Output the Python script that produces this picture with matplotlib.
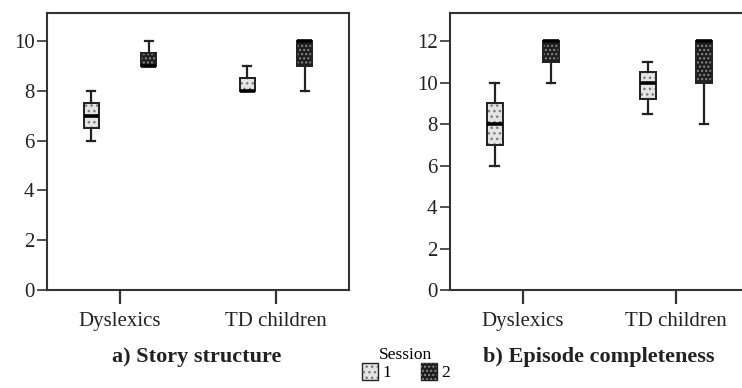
import matplotlib
matplotlib.use("Agg")
import matplotlib.pyplot as plt
from matplotlib.patches import Patch, PathPatch

plt.rcParams['font.family'] = ['Liberation Serif', 'DejaVu Serif']

groups = ["Dyslexics", "TD children"]
# five-number summaries per group: [low whisker, q1, median, q3, high whisker]
story_s1 = [[6, 6.5, 7, 7.5, 8], [8, 8, 8, 8.5, 9]]
story_s2 = [[9, 9, 9, 9.5, 10], [8, 9, 10, 10, 10]]
episode_s1 = [[6, 7, 8, 9, 10], [8.5, 9.2, 10, 10.5, 11]]
episode_s2 = [[10, 11, 12, 12, 12], [8, 10, 12, 12, 12]]

s1_face, s1_hatch, s1_hc = "#e4e4e4", "...", "#7a7a7a"
s2_face, s2_hatch, s2_hc = "#1e1e1e", "....", "#8a8a8a"
dark = "#222222"


def stats(rows):
    out = []
    for lo, q1, med, q3, hi in rows:
        out.append(dict(whislo=lo, q1=q1, med=med, q3=q3, whishi=hi, fliers=[]))
    return out


def draw_panel(ax, s1, s2, width):
    for rows, off, face, hatch, hc in [(s1, -0.185, s1_face, s1_hatch, s1_hc),
                                       (s2, 0.185, s2_face, s2_hatch, s2_hc)]:
        pos = [i + 1 + off for i in range(len(groups))]
        res = ax.bxp(stats(rows), positions=pos, widths=width, patch_artist=True,
                     showfliers=False, capwidths=0.055,
                     boxprops=dict(facecolor=face, edgecolor=dark, linewidth=1.3),
                     whiskerprops=dict(color=dark, linewidth=1.6),
                     capprops=dict(color=dark, linewidth=1.6),
                     medianprops=dict(color="black", linewidth=2.6))
        for box in res['boxes']:
            ax.add_patch(PathPatch(box.get_path(), facecolor="none", edgecolor=hc,
                                   hatch=hatch, linewidth=0, zorder=box.get_zorder() + 0.1))
            ax.add_patch(PathPatch(box.get_path(), facecolor="none", edgecolor=dark,
                                   linewidth=1.3, zorder=box.get_zorder() + 0.2))
        for med in res['medians']:
            med.set_zorder(5)
    ax.set_xticks([1, 2])
    ax.set_xticklabels(groups)
    for sp in ax.spines.values():
        sp.set_linewidth(1.5)
        sp.set_color("#333333")
    ax.tick_params(axis='x', length=10, width=1.6, pad=6, labelsize=15, color="#333333",
                   labelcolor="#222222")
    ax.tick_params(axis='y', length=7, width=1.2, pad=2, labelsize=15, color="#333333",
                   labelcolor="#222222")


fig = plt.figure(figsize=(7.42, 3.88), dpi=100)
ax1 = fig.add_axes([47 / 742, 98 / 388, 302 / 742, 277 / 388])
ax2 = fig.add_axes([450 / 742, 98 / 388, 306 / 742, 277 / 388])

draw_panel(ax1, story_s1, story_s2, 0.095)
ax1.set_xlim(0.532, 2.468)
ax1.set_ylim(0, 11.12)
ax1.set_yticks([0, 2, 4, 6, 8, 10])

draw_panel(ax2, episode_s1, episode_s2, 0.105)
ax2.set_xlim(0.523, 2.523)
ax2.set_ylim(0, 13.35)
ax2.set_yticks([0, 2, 4, 6, 8, 10, 12])

fig.text(197 / 742, 1 - 357 / 388, "a) Story structure", ha="center", va="center",
         fontsize=16, fontweight="bold", color="#222222")
fig.text(599 / 742, 1 - 357 / 388, "b) Episode completeness", ha="center", va="center",
         fontsize=16, fontweight="bold", color="#222222")

handles = [(Patch(facecolor=s1_face, edgecolor=dark, linewidth=1),
            Patch(facecolor="none", edgecolor=s1_hc, hatch=s1_hatch, linewidth=0)),
           (Patch(facecolor=s2_face, edgecolor=dark, linewidth=1),
            Patch(facecolor="none", edgecolor=s2_hc, hatch=s2_hatch, linewidth=0))]
leg = fig.legend(handles, ["1", "2"], title="Session", loc="center",
                 bbox_to_anchor=(406 / 742, 1 - 364 / 388), ncol=2, frameon=False,
                 fontsize=12.5, title_fontsize=12.5, handlelength=0.95, handleheight=1.1,
                 handletextpad=0.25, columnspacing=1.7, borderpad=0, labelspacing=0)

fig.savefig("out.png", dpi=100)
